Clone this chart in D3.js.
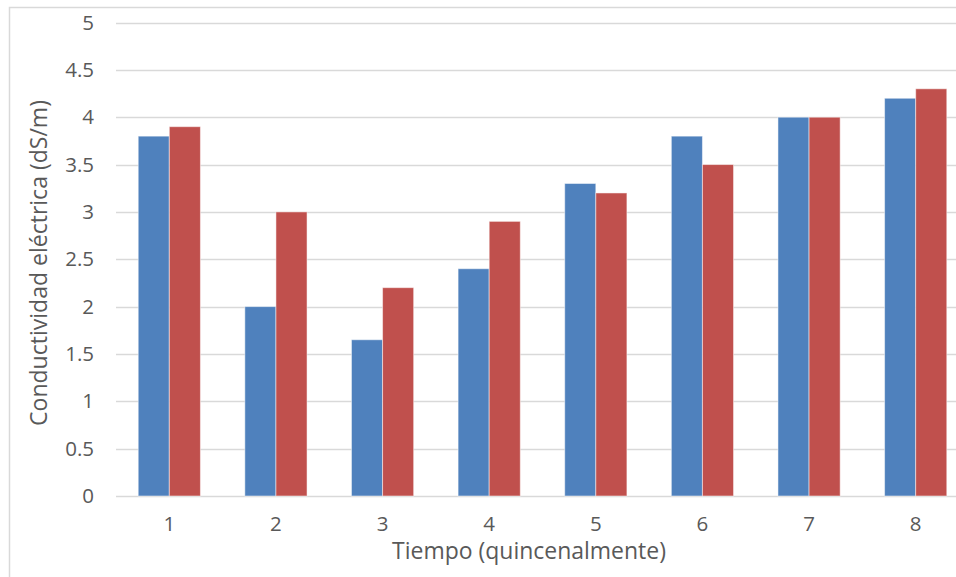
<!DOCTYPE html>
<html>
<head>
<meta charset="utf-8">
<script src="https://cdn.jsdelivr.net/npm/d3@7"></script>
<style>
  html, body { margin: 0; padding: 0; background: #fff; }
  svg { display: block; }
  text { font-family: "Open Sans", Lato, sans-serif; fill: #595959; }
</style>
</head>
<body>
<svg id="chart" width="956" height="577"></svg>
<script>
// Conductividad eléctrica por quincena, dos tratamientos
const categories = ["1", "2", "3", "4", "5", "6", "7", "8"];
const seriesA = [3.8, 2.0, 1.65, 2.4, 3.3, 3.8, 4.0, 4.2];
const seriesB = [3.9, 3.0, 2.2, 2.9, 3.2, 3.5, 4.0, 4.3];
const yTicks = [0, 0.5, 1, 1.5, 2, 2.5, 3, 3.5, 4, 4.5, 5];
const seriesColors = ["#4F81BD", "#C0504D"];

const FONT = "'Open Sans', Lato, sans-serif";
const svg = d3.select("#chart");

// chart frame
svg.append("rect")
  .attr("x", 9.5).attr("y", 7.5)
  .attr("width", 1000).attr("height", 700)
  .attr("fill", "none").attr("stroke", "#D9D9D9").attr("stroke-width", 1.5);

const plot = { left: 116, right: 969, top: 22.5, bottom: 496 };

const x = d3.scaleBand()
  .domain(categories)
  .range([plot.left, plot.right])
  .paddingInner(0)
  .paddingOuter(0);

const y = d3.scaleLinear()
  .domain([0, 5])
  .range([plot.bottom, plot.top]);

const inner = d3.scaleBand()
  .domain([0, 1])
  .range([0, x.bandwidth()])
  .paddingOuter(0.7142)
  .paddingInner(0);

// horizontal gridlines
svg.append("g")
  .selectAll("line")
  .data(yTicks)
  .join("line")
  .attr("x1", plot.left).attr("x2", plot.right)
  .attr("y1", d => Math.round(y(d)) + 0.5)
  .attr("y2", d => Math.round(y(d)) + 0.5)
  .attr("stroke", "#D9D9D9").attr("stroke-width", 1.5);

// y axis labels
const yAxis = d3.axisLeft(y).tickValues(yTicks).tickSize(0).tickPadding(22)
  .tickFormat(d3.format("~g"));
svg.append("g")
  .attr("transform", `translate(${plot.left},0)`)
  .call(yAxis)
  .call(g => g.select(".domain").remove())
  .call(g => g.selectAll("text")
    .style("font-size", "20.5px")
    .attr("fill", "#595959")
    .style("font-family", FONT));

// bars
const groups = svg.append("g")
  .selectAll("g")
  .data(categories)
  .join("g")
  .attr("transform", d => `translate(${x(d)},0)`);

groups.selectAll("rect")
  .data((d, i) => [seriesA[i], seriesB[i]])
  .join("rect")
  .attr("x", (v, j) => inner(j))
  .attr("width", inner.bandwidth())
  .attr("y", v => y(v))
  .attr("height", v => y(0) - y(v))
  .attr("fill", (v, j) => seriesColors[j])
  .attr("stroke", "#ffffff").attr("stroke-opacity", 0.5).attr("stroke-width", 1);

// x axis labels
const xAxis = d3.axisBottom(x).tickSize(0).tickPadding(20);
svg.append("g")
  .attr("transform", `translate(0,${plot.bottom})`)
  .call(xAxis)
  .call(g => g.select(".domain").remove())
  .call(g => g.selectAll("text")
    .style("font-size", "20.5px")
    .attr("fill", "#595959")
    .style("font-family", FONT));

// axis titles, sized to their target length
function fitText(sel, target) {
  let size = 21;
  sel.style("font-size", size + "px");
  const w = sel.node().getComputedTextLength();
  if (w > 0) sel.style("font-size", (size * target / w).toFixed(2) + "px");
}

const xTitle = svg.append("text")
  .attr("x", 529).attr("y", 559)
  .attr("text-anchor", "middle")
  .style("font-family", FONT)
  .text("Tiempo (quincenalmente)");
fitText(xTitle, 274);

const yTitle = svg.append("text")
  .attr("transform", "translate(47,263) rotate(-90)")
  .attr("text-anchor", "middle")
  .style("font-family", FONT)
  .text("Conductividad eléctrica (dS/m)");
fitText(yTitle, 326);
</script>
</body>
</html>
